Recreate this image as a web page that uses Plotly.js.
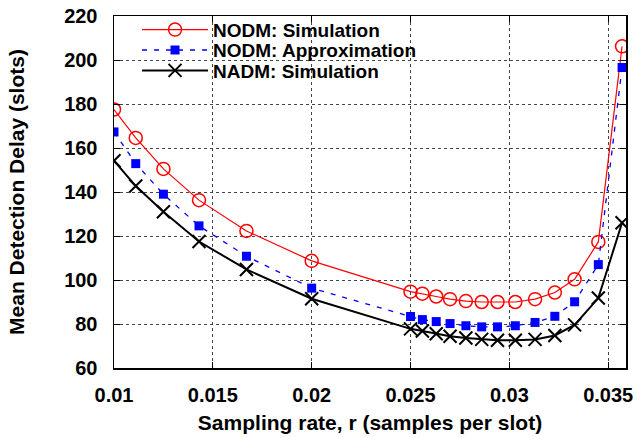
<!DOCTYPE html>
<html>
<head>
<meta charset="utf-8">
<script src="https://cdn.plot.ly/plotly-3.0.1.min.js"></script>
<style>html,body{margin:0;padding:0;background:#fff;}#chart{width:637px;height:438px;}</style>
</head>
<body>
<div id="chart"></div>
<script>
// Sampling rate r (samples per slot)
const samplingRate = [0.01, 0.0111, 0.0125, 0.0143, 0.0167, 0.02, 0.025, 0.0256, 0.0263, 0.027, 0.0278, 0.0286, 0.0294, 0.0303, 0.0313, 0.0323, 0.0333, 0.0345, 0.0357];
// Mean detection delay (slots)
const nodmSimulation = [177.5, 164.6, 150.5, 136.3, 122.3, 108.7, 94.7, 93.8, 92.5, 91.3, 90.4, 90.0, 90.0, 90.0, 91.3, 94.3, 100.3, 117.3, 206.2];
const nodmApproximation = [167.3, 152.9, 139.0, 124.6, 110.8, 96.3, 83.4, 82.0, 81.1, 80.2, 79.2, 78.7, 78.7, 79.2, 80.7, 83.5, 90.1, 107.0, 196.6];
const nadmSimulation = [154.2, 142.7, 131.0, 117.5, 104.8, 91.5, 77.8, 76.8, 75.6, 74.4, 73.6, 73.0, 72.6, 72.6, 73.0, 74.8, 79.6, 91.8, 126.0];
const seriesNames = ["NODM: Simulation", "NODM: Approximation", "NADM: Simulation"];
const xTicks = [0.01, 0.015, 0.02, 0.025, 0.03, 0.035];
const xTickText = ["0.01", "0.015", "0.02", "0.025", "0.03", "0.035"];
const yTicks = [60, 80, 100, 120, 140, 160, 180, 200, 220];

const FONT = 'Liberation Sans, Arial, sans-serif';

const traces = [
  {x: samplingRate, y: nodmSimulation, name: seriesNames[0], type: 'scatter', mode: 'lines+markers', legend: 'legend',
   line: {color: '#ff0000', width: 1.2},
   marker: {symbol: 'circle-open', size: 13, color: '#ff0000', line: {width: 1.5, color: '#ff0000'}}},
  {x: samplingRate, y: nodmApproximation, name: seriesNames[1], type: 'scatter', mode: 'lines+markers', legend: 'legend2',
   line: {color: '#0000ff', width: 1.3, dash: '5px,7px'},
   marker: {symbol: 'square', size: 9, color: '#0000ff'}},
  {x: samplingRate, y: nadmSimulation, name: seriesNames[2], type: 'scatter', mode: 'lines+markers', legend: 'legend3',
   line: {color: '#000000', width: 2},
   marker: {symbol: 'x-thin-open', size: 13, color: '#000000', line: {width: 2, color: '#000000'}}}
];

const axisCommon = {
  showline: true, linecolor: '#000', linewidth: 1.5, mirror: 'ticks',
  ticks: 'inside', ticklen: 6, tickcolor: '#000', tickwidth: 1,
  showgrid: true, gridcolor: '#444', griddash: 'dot', gridwidth: 1,
  zeroline: false,
  tickfont: {family: FONT, size: 20, color: '#000', weight: 'bold'}
};

function legendAt(yPaper) {
  return {
    x: 0.045, y: yPaper, xanchor: 'left', yanchor: 'middle',
    bgcolor: 'rgba(0,0,0,0)', borderwidth: 0,
    itemwidth: 66, tracegroupgap: 0,
    font: {family: FONT, size: 19, color: '#000', weight: 'bold'}
  };
}

const layout = {
  width: 637, height: 438,
  margin: {l: 114, r: 11, t: 11, b: 70},
  paper_bgcolor: '#fff', plot_bgcolor: '#fff',
  font: {family: FONT, color: '#000', weight: 'bold'},
  xaxis: Object.assign({}, axisCommon, {
    range: [0.01, 0.0359], tickvals: xTicks, ticktext: xTickText, ticklabelstandoff: 8,
    title: {text: 'Sampling rate, r (samples per slot)', font: {family: FONT, size: 21, color: '#000', weight: 'bold'}, standoff: 11}
  }),
  yaxis: Object.assign({}, axisCommon, {
    range: [60, 220], tickvals: yTicks, ticklabelstandoff: 11,
    title: {text: 'Mean Detection Delay (slots)', font: {family: FONT, size: 21, color: '#000', weight: 'bold'}, standoff: 34}
  }),
  showlegend: true,
  legend: legendAt(0.961),
  legend2: legendAt(0.903),
  legend3: legendAt(0.845),
  shapes: [
    {type: 'line', xref: 'paper', yref: 'y', x0: 0.025, x1: 0.67, y0: 200, y1: 200,
     line: {color: '#fff', width: 3}, layer: 'between'}
  ]
};

Plotly.newPlot('chart', traces, layout, {displayModeBar: false, staticPlot: true});
</script>
</body>
</html>
